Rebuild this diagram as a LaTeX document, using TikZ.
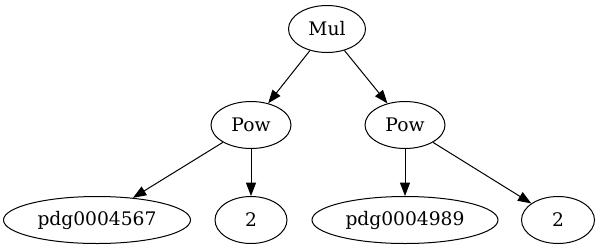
\documentclass[tikz,border=0pt]{standalone}
\usepackage{fontspec}
\setmainfont{DejaVu Serif}
\usetikzlibrary{arrows.meta,shapes.geometric}

\begin{document}
\begin{tikzpicture}[x=0.75pt,y=-0.75pt,
  every node/.style={font=\fontsize{14pt}{16pt}\selectfont},
  term/.style={ellipse,draw=black,line width=0.75pt,inner sep=0pt,
    minimum height=35.25pt,minimum width=54pt},
  edge/.style={black,line width=0.75pt,
    -{Triangle[length=10pt,width=7.5pt]}}]
  % page frame in pixels of the rendered graph (1px = 0.75pt)
  \useasboundingbox (0,0) rectangle (599,251);

  % rank 0
  \node[term,minimum width=57.75pt] (mul) at (327,29) {Mul};
  % rank 1
  \node[term,minimum width=60pt] (powL) at (251,125) {Pow};
  \node[term,minimum width=60pt] (powR) at (405,125) {Pow};
  % rank 2
  \node[term,minimum width=140.25pt] (pdgA) at (97,220) {pdg0004567};
  \node[term,minimum width=54pt] (twoA) at (251,220) {2};
  \node[term,minimum width=139.5pt] (pdgB) at (405,220) {pdg0004989};
  \node[term,minimum width=54.75pt] (twoB) at (558,220) {2};

  \draw[edge] (mul) -- (powL);
  \draw[edge] (mul) -- (powR);
  \draw[edge] (powL) -- (pdgA);
  \draw[edge] (powL) -- (twoA);
  \draw[edge] (powR) -- (pdgB);
  \draw[edge] (powR) -- (twoB);
\end{tikzpicture}
\end{document}
